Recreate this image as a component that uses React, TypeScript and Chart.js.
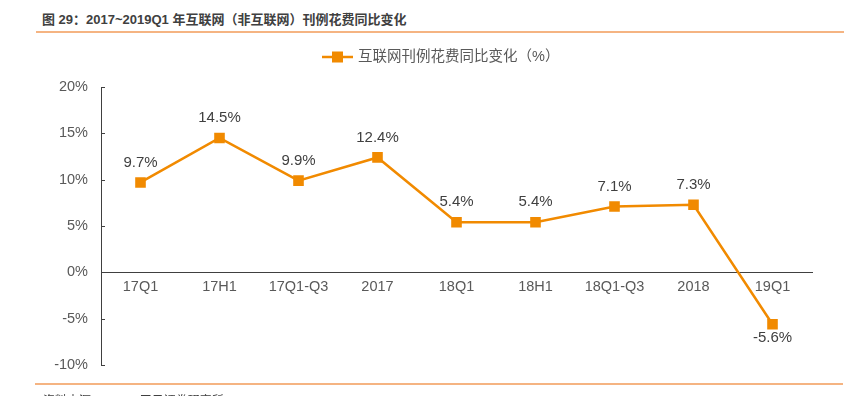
import React, { useEffect, useRef } from "react";
import { Chart, registerables } from "chart.js";
Chart.register(...registerables);

const categories = ["17Q1", "17H1", "17Q1-Q3", "2017", "18Q1", "18H1", "18Q1-Q3", "2018", "19Q1"];
const growth = [9.7, 14.5, 9.9, 12.4, 5.4, 5.4, 7.1, 7.3, -5.6];
const seriesName = "互联网刊例花费同比变化（%）";
const titleText = "图 29：2017~2019Q1 年互联网（非互联网）刊例花费同比变化";
const sourceText = "资料来源：CTR，天风证券研究所";

const ORANGE = "#F18A00";
const FONT = "'Liberation Sans', 'Noto Sans CJK SC', sans-serif";

export default function App() {
  const ref = useRef<HTMLCanvasElement>(null);
  useEffect(() => {
    const labelPlugin = {
      id: "extras",
      afterDatasetsDraw(chart: any) {
        const ctx = chart.ctx;
        const meta = chart.getDatasetMeta(0);
        ctx.save();
        ctx.font = `15px ${FONT}`;
        ctx.fillStyle = "#404040";
        ctx.textAlign = "center";
        ctx.textBaseline = "middle";
        meta.data.forEach((pt: any, i: number) => {
          const v = growth[i];
          const y = v >= 0 ? pt.y - 20 : pt.y + 14;
          ctx.fillText(v.toFixed(1) + "%", pt.x, y);
        });
        // inward y ticks
        const ys = chart.scales.y;
        ctx.strokeStyle = "#404040";
        ctx.lineWidth = 1;
        ys.ticks.forEach((t: any) => {
          const yy = Math.round(ys.getPixelForValue(t.value)) + 0.5;
          ctx.beginPath();
          ctx.moveTo(ys.right, yy);
          ctx.lineTo(ys.right + 4, yy);
          ctx.stroke();
        });
        // legend
        const lx = 322, ly = 57;
        ctx.strokeStyle = ORANGE;
        ctx.lineWidth = 2.5;
        ctx.beginPath();
        ctx.moveTo(lx, ly);
        ctx.lineTo(lx + 31, ly);
        ctx.stroke();
        ctx.fillStyle = ORANGE;
        ctx.fillRect(lx + 10, ly - 5.5, 11, 11);
        ctx.fillStyle = "#595959";
        ctx.textAlign = "left";
        ctx.font = `14.5px ${FONT}`;
        ctx.fillText(seriesName, lx + 36, ly);
        ctx.restore();
      },
    };
    const chart = new Chart(ref.current!, {
      type: "line",
      data: {
        labels: categories,
        datasets: [
          {
            label: seriesName,
            data: growth,
            borderColor: ORANGE,
            backgroundColor: ORANGE,
            borderWidth: 2.5,
            pointStyle: "rect",
            pointRadius: 7.5,
            pointHoverRadius: 7.5,
            pointBorderWidth: 0,
            tension: 0,
          },
        ],
      },
      options: {
        animation: false,
        responsive: false,
        maintainAspectRatio: false,
        layout: { padding: { left: 0, right: 34, top: 87, bottom: 31 } },
        plugins: { legend: { display: false }, tooltip: { enabled: false } },
        scales: {
          x: {
            type: "category",
            offset: true,
            position: { y: 0 } as any,
            grid: { display: false, drawTicks: false },
            border: { display: true, color: "#404040", width: 1 },
            ticks: { color: "#595959", font: { size: 14.5, family: FONT }, padding: 6, maxRotation: 0, autoSkip: false },
          },
          y: {
            min: -10,
            max: 20,
            afterFit(scale: any) {
              scale.width = 101;
            },
            grid: { display: false, drawTicks: false },
            border: { display: true, color: "#404040", width: 1 },
            ticks: {
              stepSize: 5,
              color: "#595959",
              font: { size: 14.5, family: FONT },
              padding: 13,
              callback: (v: any) => v + "%",
            },
          },
        },
      },
      plugins: [labelPlugin],
    });
    return () => chart.destroy();
  }, []);

  return (
    <div style={{ position: "absolute", left: 0, top: 0, width: 846, height: 396, overflow: "hidden", background: "#fff" }}>
      <div
        style={{
          position: "absolute",
          left: 42,
          top: 9,
          fontFamily: FONT,
          fontWeight: "bold",
          fontSize: 13,
          color: "#404040",
          whiteSpace: "nowrap",
        }}
      >
        {titleText}
      </div>
      <div style={{ position: "absolute", left: 36, top: 31, width: 808, height: 2, background: "#F5B482" }} />
      <canvas ref={ref} width={846} height={396} style={{ position: "absolute", left: 0, top: 0, width: 846, height: 396 }} />
      <div style={{ position: "absolute", left: 35, top: 383, width: 808, height: 1.5, background: "#F5B482" }} />
      <div
        style={{
          position: "absolute",
          left: 43,
          top: 391,
          fontFamily: FONT,
          fontSize: 12,
          color: "#404040",
          whiteSpace: "nowrap",
        }}
      >
        {sourceText}
      </div>
    </div>
  );
}
